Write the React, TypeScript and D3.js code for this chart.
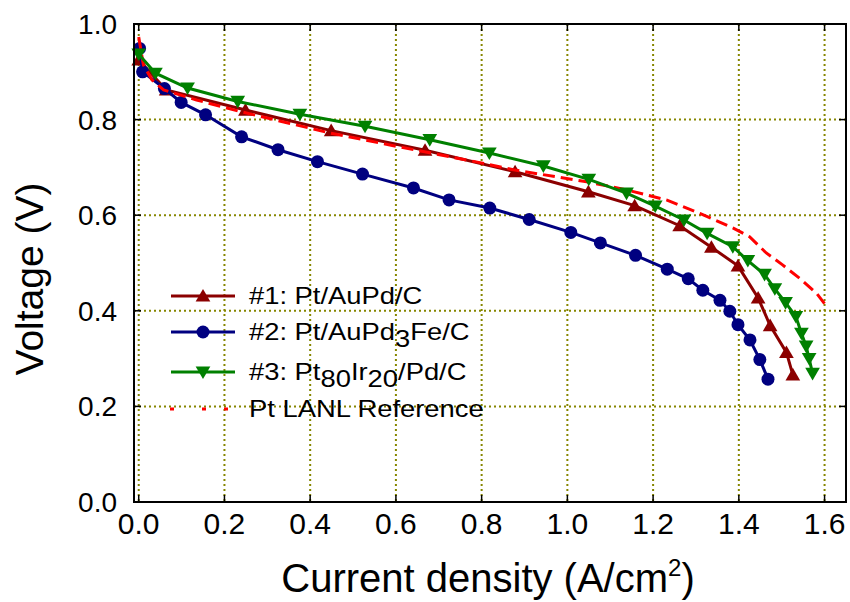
import React from "react";
import * as d3 from "d3";

const xTicks = [0, 0.2, 0.4, 0.6, 0.8, 1.0, 1.2, 1.4, 1.6];
const yTicks = [0, 0.2, 0.4, 0.6, 0.8, 1.0];

const s1X = [0.0, 0.064, 0.249, 0.449, 0.668, 0.878, 1.049, 1.157, 1.262, 1.336, 1.398, 1.445, 1.473, 1.511, 1.526];
const s1Y = [0.925, 0.862, 0.82, 0.777, 0.736, 0.691, 0.649, 0.62, 0.578, 0.533, 0.494, 0.427, 0.369, 0.313, 0.266];

const s2X = [0.002, 0.009, 0.06, 0.099, 0.156, 0.24, 0.325, 0.417, 0.522, 0.641, 0.724, 0.819, 0.911, 1.008, 1.077, 1.159, 1.233, 1.282, 1.316, 1.356, 1.379, 1.398, 1.426, 1.449, 1.468];
const s2Y = [0.949, 0.9, 0.865, 0.836, 0.81, 0.764, 0.737, 0.712, 0.686, 0.657, 0.632, 0.615, 0.591, 0.564, 0.542, 0.516, 0.487, 0.467, 0.443, 0.422, 0.399, 0.371, 0.339, 0.298, 0.257];

const s3X = [0.0, 0.039, 0.114, 0.231, 0.376, 0.528, 0.679, 0.818, 0.944, 1.05, 1.138, 1.205, 1.272, 1.326, 1.386, 1.421, 1.46, 1.484, 1.509, 1.533, 1.546, 1.557, 1.564, 1.572];
const s3Y = [0.937, 0.897, 0.866, 0.838, 0.811, 0.786, 0.758, 0.73, 0.703, 0.675, 0.646, 0.619, 0.59, 0.562, 0.534, 0.505, 0.476, 0.446, 0.417, 0.388, 0.353, 0.326, 0.3, 0.269];

const refX = [0.0, 0.011, 0.031, 0.058, 0.135, 0.236, 0.353, 0.446, 0.602, 0.796, 0.874, 1.045, 1.138, 1.231, 1.309, 1.387, 1.425, 1.464, 1.502, 1.542, 1.581, 1.604];
const refY = [0.973, 0.914, 0.883, 0.862, 0.841, 0.817, 0.792, 0.772, 0.744, 0.71, 0.695, 0.67, 0.653, 0.632, 0.604, 0.573, 0.555, 0.521, 0.496, 0.468, 0.437, 0.41];

const W = 850;
const H = 602;
const L = 134, R = 846, T = 24, B = 502;

const x = d3.scaleLinear().domain([-0.011, 1.65]).range([L, R]);
const y = d3.scaleLinear().domain([0, 1]).range([B, T]);

const zip = (xs: number[], ys: number[]) => xs.map((v, i) => [v, ys[i]] as [number, number]);

const line = d3
  .line<[number, number]>()
  .x((d) => x(d[0]))
  .y((d) => y(d[1]));

const triUp = (s: number) => `M0,${-s}L${s * 1.05},${s * 0.8}L${-s * 1.05},${s * 0.8}Z`;
const triDown = (s: number) => `M0,${s}L${s * 1.05},${-s * 0.8}L${-s * 1.05},${-s * 0.8}Z`;

const C1 = "#8b0000";
const C2 = "#000080";
const C3 = "#008000";
const C4 = "#ff0000";
const GRID = "#868600";

export default function App() {
  const d1 = zip(s1X, s1Y);
  const d2 = zip(s2X, s2Y);
  const d3d = zip(s3X, s3Y);
  const dr = zip(refX, refY);
  const font = "Arial, 'Liberation Sans', Helvetica, sans-serif";
  const legY = [296, 332, 372, 409];
  const legT = `translate(249,0) scale(1.19,1) translate(-249,0)`;
  return (
    <svg width={W} height={H} style={{ position: "absolute", left: 0, top: 0 }} fontFamily={font}>
      <rect x={0} y={0} width={W} height={H} fill="#fff" />
      {/* grid */}
      {xTicks.map((t) => (
        <line key={"gx" + t} x1={x(t)} x2={x(t)} y1={T} y2={B} stroke={GRID} strokeWidth={2} strokeDasharray="2,3" />
      ))}
      {yTicks.map((t) => (
        <line key={"gy" + t} x1={L} x2={R} y1={y(t)} y2={y(t)} stroke={GRID} strokeWidth={2} strokeDasharray="2,3" />
      ))}
      {/* ticks */}
      {xTicks.map((t) => (
        <g key={"tx" + t}>
          <line x1={x(t)} x2={x(t)} y1={B} y2={B - 7} stroke="#000" strokeWidth={1.5} />
          <line x1={x(t)} x2={x(t)} y1={T} y2={T + 7} stroke="#000" strokeWidth={1.5} />
        </g>
      ))}
      {yTicks.map((t) => (
        <g key={"ty" + t}>
          <line x1={L} x2={L + 7} y1={y(t)} y2={y(t)} stroke="#000" strokeWidth={1.5} />
          <line x1={R} x2={R - 7} y1={y(t)} y2={y(t)} stroke="#000" strokeWidth={1.5} />
        </g>
      ))}
      {/* series 1 */}
      <path d={line(d1) || ""} fill="none" stroke={C1} strokeWidth={3} />
      {d1.map((d, i) => (
        <path key={"m1" + i} d={triUp(7)} transform={`translate(${x(d[0])},${y(d[1])})`} fill={C1} />
      ))}
      {/* series 2 */}
      <path d={line(d2) || ""} fill="none" stroke={C2} strokeWidth={3} />
      {d2.map((d, i) => (
        <circle key={"m2" + i} cx={x(d[0])} cy={y(d[1])} r={6.5} fill={C2} />
      ))}
      {/* reference */}
      <path d={line(dr) || ""} fill="none" stroke={C4} strokeWidth={3} strokeDasharray="12,6" />
      {/* series 3 */}
      <path d={line(d3d) || ""} fill="none" stroke={C3} strokeWidth={3} />
      {d3d.map((d, i) => (
        <path key={"m3" + i} d={triDown(7)} transform={`translate(${x(d[0])},${y(d[1])})`} fill={C3} />
      ))}
      {/* frame */}
      <rect x={L} y={T} width={R - L} height={B - T} fill="none" stroke="#000" strokeWidth={2} />
      {/* tick labels */}
      {xTicks.map((t) => (
        <text key={"lx" + t} x={x(t)} y={534} textAnchor="middle" fontSize={30}>
          {t.toFixed(1)}
        </text>
      ))}
      {yTicks.map((t) => (
        <text key={"ly" + t} x={117} y={y(t)} dy="0.36em" textAnchor="end" fontSize={28}>
          {t.toFixed(1)}
        </text>
      ))}
      {/* axis titles */}
      <text x={488} y={592} textAnchor="middle" fontSize={40}>
        Current density (A/cm<tspan fontSize={24} dy={-16}>2</tspan>
        <tspan dy={16}>)</tspan>
      </text>
      <text transform={`translate(43,279) rotate(-90)`} textAnchor="middle" fontSize={39}>
        Voltage (V)
      </text>
      {/* legend */}
      <g>
        <line x1={171} x2={235} y1={legY[0]} y2={legY[0]} stroke={C1} strokeWidth={3} />
        <path d={triUp(7)} transform={`translate(203,${legY[0]})`} fill={C1} />
        <line x1={171} x2={235} y1={legY[1]} y2={legY[1]} stroke={C2} strokeWidth={3} />
        <circle cx={203} cy={legY[1]} r={6.5} fill={C2} />
        <line x1={171} x2={235} y1={legY[2]} y2={legY[2]} stroke={C3} strokeWidth={3} />
        <path d={triDown(7)} transform={`translate(203,${legY[2]})`} fill={C3} />
        <line x1={170} x2={230} y1={legY[3]} y2={legY[3]} stroke={C4} strokeWidth={3} strokeDasharray="4,28,4,18,4,20" />
        <g fontSize={23}>
          <text x={249} y={legY[0]} dy="0.36em" transform={legT}>
            #1: Pt/AuPd/C
          </text>
          <text x={249} y={legY[1]} dy="0.36em" transform={legT}>
            #2: Pt/AuPd<tspan dy={7}>3</tspan>
            <tspan dy={-7}>Fe/C</tspan>
          </text>
          <text x={249} y={legY[2]} dy="0.36em" transform={legT}>
            #3: Pt<tspan dy={7}>80</tspan>
            <tspan dy={-7}>Ir</tspan>
            <tspan dy={7}>20</tspan>
            <tspan dy={-7}>/Pd/C</tspan>
          </text>
          <text x={249} y={legY[3]} dy="0.36em" transform={legT}>
            Pt LANL Reference
          </text>
        </g>
      </g>
    </svg>
  );
}
